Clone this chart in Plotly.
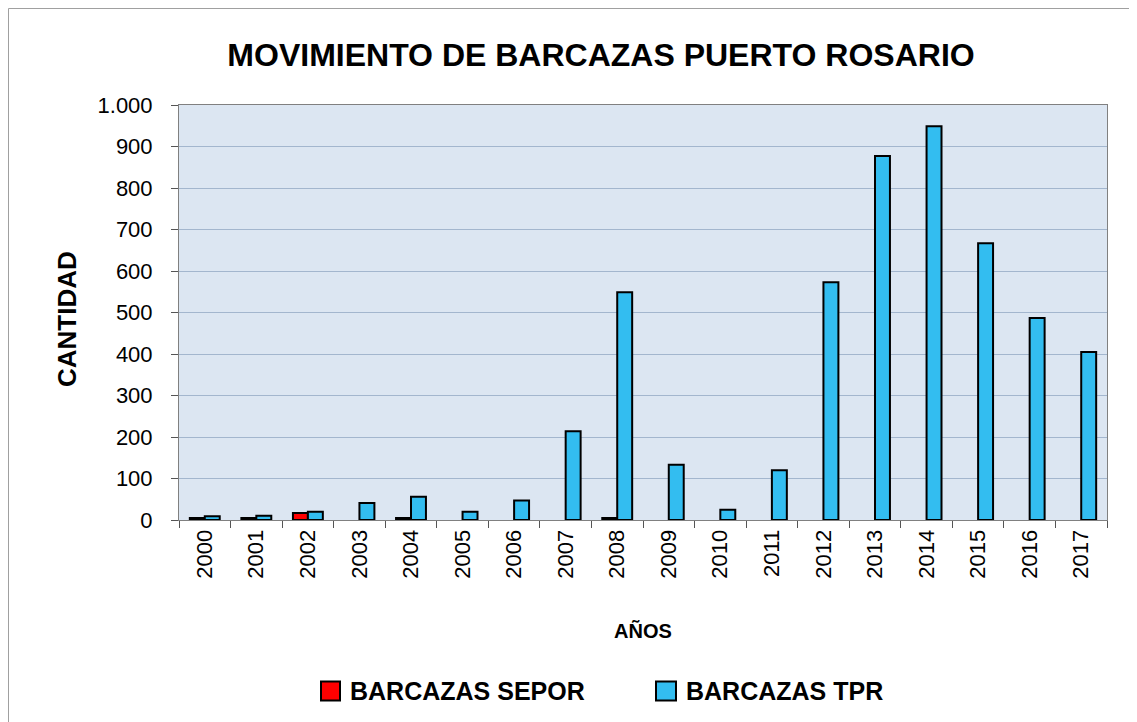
import plotly.graph_objects as go

years = [str(y) for y in range(2000, 2018)]
sepor = [5, 5, 17, None, 5, None, None, None, 5, None, None, None, None, None, None, None, None, None]
tpr = [9, 10, 20, 41, 56, 20, 47, 214, 549, 133, 25, 120, 573, 877, 949, 667, 487, 405]
y_ticks = list(range(0, 1001, 100))
series_names = ["BARCAZAS SEPOR", "BARCAZAS TPR"]
series_colors = ["#ff0000", "#33bdf0"]

# the page body adds an 8px offset; work in page pixel coordinates
OFF = 8
W, H = 1137 - OFF, 722 - OFF
PL, PR, PT, PB = 179, 1107, 105, 520  # plot area in page pixels
L = PL - OFF
T = PT - OFF
R = W - (PR - OFF)
B = H - (PB - OFF)
pw, ph = PR - PL, PB - PT


def px(x):
    return (x - PL) / pw


def py(y):
    return (PB - y) / ph


fig = go.Figure()
for name, vals, col in zip(series_names, [sepor, tpr], series_colors):
    fig.add_trace(go.Bar(x=years, y=vals, name=name,
                         marker=dict(color=col, line=dict(color="black", width=2))))

fig.update_layout(
    width=W, height=H,
    margin=dict(l=L, r=R, t=T, b=B),
    paper_bgcolor="white",
    plot_bgcolor="#dce6f2",
    separators=",.",
    barmode="group",
    bargap=0.42,
    bargroupgap=0.0,
    showlegend=False,
    font=dict(family="Liberation Sans, Arial", color="black"),
    title=dict(text="<b>MOVIMIENTO DE BARCAZAS PUERTO ROSARIO</b>",
               x=px(601), xref="paper", xanchor="center",
               y=1 - (55 - OFF) / H, yanchor="middle",
               font=dict(size=32, family="Liberation Sans, Arial")),
    xaxis=dict(
        type="category",
        tickangle=-90,
        tickfont=dict(size=22),
        ticks="outside", ticklen=7, tickcolor="#555", tickson="boundaries",
        showline=True, linecolor="#808080", linewidth=1, mirror=True,
        showgrid=False,
        title=dict(text="<b>AÑOS</b>", font=dict(size=20), standoff=46),
    ),
    yaxis=dict(
        range=[0, 1000],
        tickvals=y_ticks,
        tickformat=",d",
        tickfont=dict(size=22),
        ticks="outside", ticklen=7, tickcolor="#555",
        ticklabelstandoff=14,
        showline=True, linecolor="#808080", linewidth=1, mirror=True,
        showgrid=True, gridcolor="#a3b6ce", gridwidth=1,
        zeroline=False,
    ),
)

# y-axis title
fig.add_annotation(text="<b>CANTIDAD</b>", xref="paper", yref="paper",
                   x=px(67), y=py(319), xanchor="center", yanchor="middle",
                   textangle=-90, showarrow=False, font=dict(size=26))

# legend (drawn manually to match the large square symbols)
leg_sq = [(321, 340), (656, 676)]
leg_tx = [348, 684]
for (x0, x1), tx, name, col in zip(leg_sq, leg_tx, series_names, series_colors):
    fig.add_shape(type="rect", xref="paper", yref="paper",
                  x0=px(x0), x1=px(x1), y0=py(700.5), y1=py(681.5),
                  line=dict(color="black", width=2), fillcolor=col)
    fig.add_annotation(text="<b>" + name + "</b>", xref="paper", yref="paper",
                       x=px(tx), y=py(691), xanchor="left", yanchor="middle",
                       showarrow=False, font=dict(size=25))

# outer chart border
fig.add_shape(type="rect", xref="paper", yref="paper",
              x0=px(8.5), x1=px(1150), y0=py(740), y1=py(8.5),
              line=dict(color="#a0a0a0", width=1), fillcolor="rgba(0,0,0,0)",
              layer="below")

fig.write_html("out.html")
